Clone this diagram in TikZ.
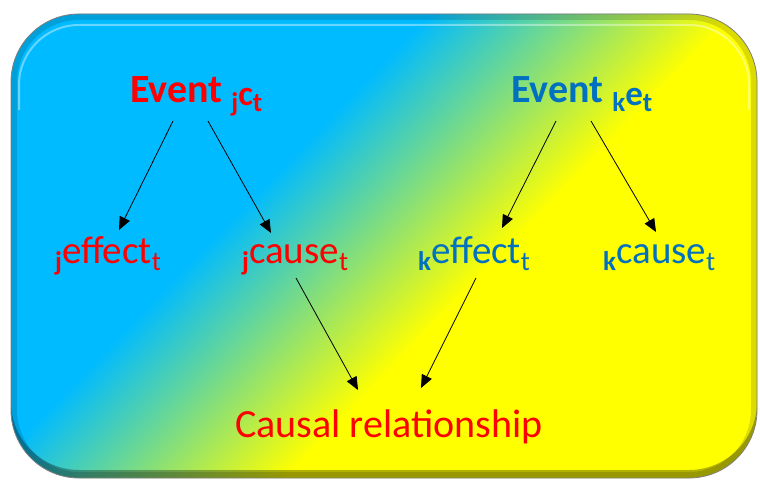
\documentclass[tikz,border=0pt]{standalone}
\usepackage{fontspec}
\setmainfont{Carlito}
\usetikzlibrary{arrows.meta}
\definecolor{cy}{RGB}{0,187,255}
\definecolor{ye}{RGB}{255,255,0}
\definecolor{evred}{RGB}{255,0,0}
\definecolor{evblue}{RGB}{0,112,192}
\pgfdeclarehorizontalshading{bgshade}{100bp}{color(0bp)=(cy); color(44.5bp)=(cy); color(55.5bp)=(ye); color(100bp)=(ye)}
\newcommand\lowsmall[1]{\raisebox{-7pt}{\fontsize{27}{27}\selectfont #1}}
\newcommand\lowbig[1]{\raisebox{-9pt}{\fontsize{27}{27}\selectfont\bfseries #1}}
\newcommand\midbig[1]{\raisebox{-3pt}{\fontsize{35}{35}\selectfont\bfseries #1}}
\tikzset{
  evlabel/.style={anchor=base west, inner sep=0pt, font=\fontsize{40}{42}\selectfont\bfseries},
  vlabel/.style={anchor=base west, inner sep=0pt, font=\fontsize{39}{40}\selectfont},
  arr/.style={line width=0.8pt, -{Triangle[length=13pt,width=11pt]}}
}
\begin{document}
\begin{tikzpicture}[x=1pt,y=-1pt]
\useasboundingbox (0,0) rectangle (760,481);
\def\boxpath{(11,14) rectangle (757,478)}
% background
\begin{scope}
  \clip[rounded corners=68pt] \boxpath;
  \shade[shading=bgshade, shading angle=-44] (-143,-254) rectangle (857,746);
  \draw[rounded corners=68pt, black, opacity=0.14, line width=12pt] \boxpath;
  \fill[black, opacity=0.3, even odd rule, rounded corners=68pt]
     \boxpath (11,6) rectangle (757,470);
  \draw[white, opacity=0.4, line width=2pt, rounded corners=60pt]
     (19,110) -- (19,25) -- (749,25) -- (749,110);
\end{scope}
\draw[rounded corners=68pt, gray, line width=0.8pt] \boxpath;
% labels
\node[evlabel, text=evred] (evj) at (130,103) {Event \lowbig{j}\midbig{c}\lowbig{t}};
\node[evlabel, text=evblue] (evk) at (511,103) {Event \lowbig{k}\midbig{e}\lowbig{t}};
\node[vlabel, text=evred] (jeff) at (55,263) {\lowsmall{\bfseries j}effect\lowsmall{t}};
\node[vlabel, text=evred] (jcau) at (242,263) {\lowsmall{\bfseries j}cause\lowsmall{t}};
\node[vlabel, text=evblue] (keff) at (418,263) {\lowsmall{\bfseries k}effect\lowsmall{t}};
\node[vlabel, text=evblue] (kcau) at (603,263) {\lowsmall{\bfseries k}cause\lowsmall{t}};
\node[anchor=base west, inner sep=0pt, text=evred, font=\fontsize{40}{44}\selectfont] (causal) at (235,437) {Causal relationship};
% arrows
\draw[arr] ([shift={(43,18)}]evj.base west) -- ([shift={(64,-33)}]jeff.base west);
\draw[arr] ([shift={(78,18)}]evj.base west) -- ([shift={(29,-30)}]jcau.base west);
\draw[arr] ([shift={(45,18)}]evk.base west) -- ([shift={(84,-35)}]keff.base west);
\draw[arr] ([shift={(80,18)}]evk.base west) -- ([shift={(53,-31)}]kcau.base west);
\draw[arr] ([shift={(54,15)}]jcau.base west) -- ([shift={(123,-47)}]causal.base west);
\draw[arr] ([shift={(58,15)}]keff.base west) -- ([shift={(186,-49)}]causal.base west);
\end{tikzpicture}
\end{document}
